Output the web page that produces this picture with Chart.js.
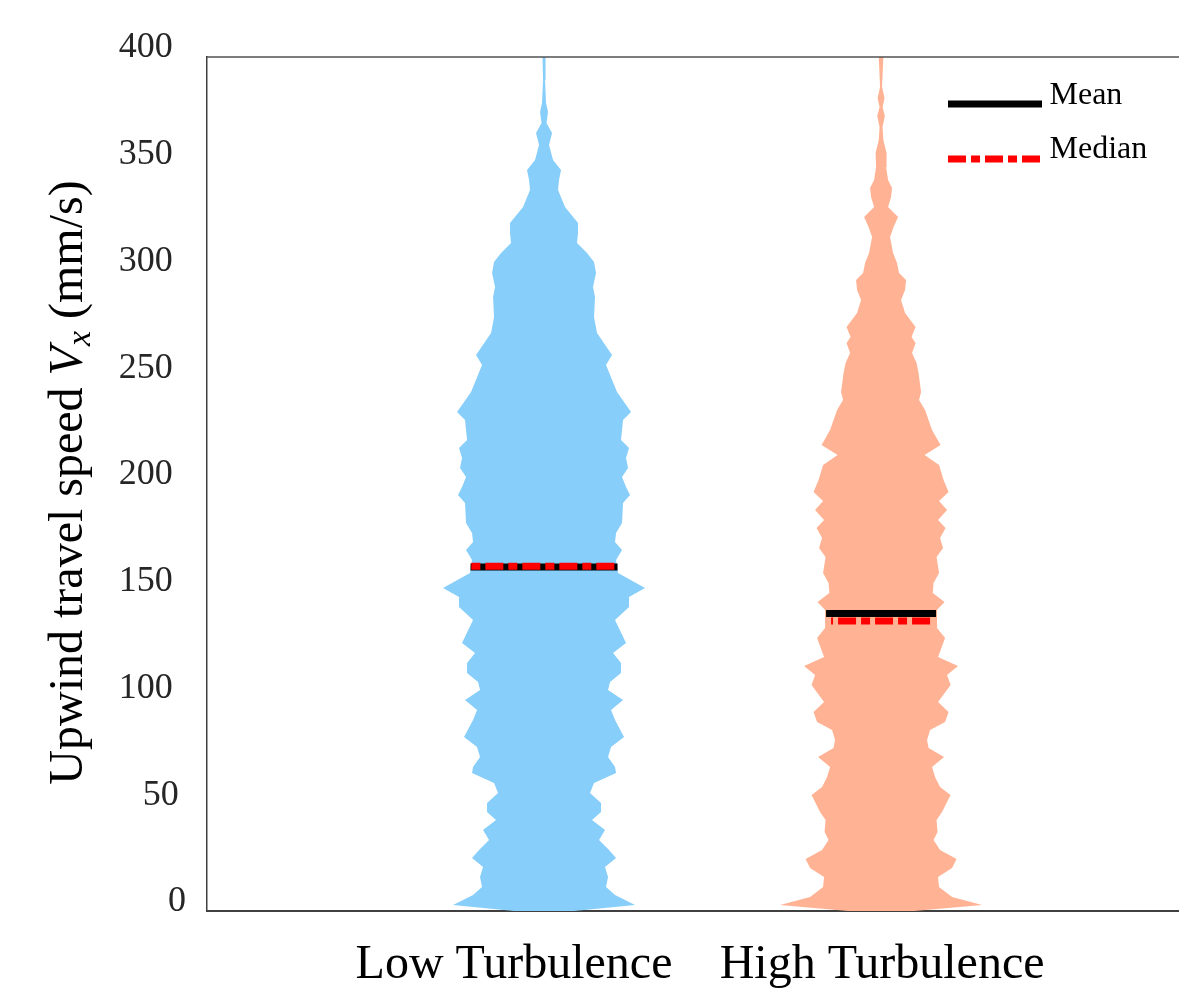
<!DOCTYPE html>
<html>
<head>
<meta charset="utf-8">
<script src="https://cdn.jsdelivr.net/npm/chart.js@4.4.1/dist/chart.umd.min.js"></script>
<style>
html,body{margin:0;padding:0;background:#fff;}
#wrap{width:1179px;height:989px;position:relative;}
</style>
</head>
<body>
<div id="wrap"><canvas id="c" width="1179" height="989"></canvas></div>
<script>
// ---------------- data ----------------
const CATEGORIES = ['Low Turbulence', 'High Turbulence'];
const VIOLIN_CENTERS = [1, 2];
const CATEGORY_LABEL_POS = [0.911, 2.003];
const Y_TICKS = [0, 50, 100, 150, 200, 250, 300, 350, 400];
const LEGEND_LABELS = ['Mean', 'Median'];

// [speed (mm/s), relative density]
const LOW_PROFILE = [
  [0, 0.30], [2.8, 0.91], [7.5, 0.71], [11.2, 0.62], [15.9, 0.64], [20.6, 0.61],
  [24.8, 0.72], [28.6, 0.65], [33.3, 0.55], [37.9, 0.61], [42.6, 0.48], [46.4, 0.57],
  [50.6, 0.57], [55.3, 0.46], [60.0, 0.50], [64.6, 0.72], [67.4, 0.71], [72.1, 0.64],
  [76.8, 0.67], [81.5, 0.80], [89.5, 0.71], [94.1, 0.67], [98.8, 0.79], [103.5, 0.64],
  [107.3, 0.66], [111.5, 0.77], [116.2, 0.77], [120.8, 0.69], [125.5, 0.82], [136.3, 0.71],
  [142.4, 0.85], [147.1, 0.85], [151.3, 1.01], [158.3, 0.74], [164.4, 0.72], [169.1, 0.78],
  [172.8, 0.71], [177.0, 0.72], [181.7, 0.78], [191.1, 0.79], [194.8, 0.86], [198.6, 0.82],
  [203.3, 0.78], [207.5, 0.84], [212.2, 0.82], [216.9, 0.85], [220.6, 0.77], [230.0, 0.79],
  [233.7, 0.87], [243.1, 0.73], [255.7, 0.62], [260.4, 0.68], [270.7, 0.53], [278.2, 0.50],
  [287.6, 0.51], [292.3, 0.49], [298.8, 0.52], [304.0, 0.50], [308.2, 0.43], [312.9, 0.33],
  [317.6, 0.34], [322.2, 0.34], [329.7, 0.21], [337.7, 0.14], [342.4, 0.15], [347.1, 0.17],
  [351.8, 0.09], [358.8, 0.05], [364.4, 0.08], [369.1, 0.025], [374.2, 0.04], [378.5, 0.02],
  [389.2, 0.01], [400, 0.015]
];
const HIGH_PROFILE = [
  [0, 0.33], [2.8, 1.01], [6.6, 0.71], [11.2, 0.58], [15.9, 0.57], [20.1, 0.71],
  [24.4, 0.755], [28.6, 0.59], [33.3, 0.525], [37.0, 0.565], [42.6, 0.555], [46.4, 0.61],
  [54.3, 0.695], [58.1, 0.59], [62.8, 0.54], [67.4, 0.51], [72.1, 0.63], [76.3, 0.475],
  [80.1, 0.46], [84.8, 0.49], [88.5, 0.64], [93.2, 0.675], [97.9, 0.57], [105.9, 0.695],
  [110.5, 0.66], [114.8, 0.77], [119.0, 0.57], [127.9, 0.64], [132.6, 0.56], [141.0, 0.56],
  [144.7, 0.635], [148.9, 0.517], [153.6, 0.525], [158.3, 0.58], [165.8, 0.555], [170.0, 0.62],
  [174.7, 0.59], [179.4, 0.645], [183.1, 0.57], [187.8, 0.66], [192.0, 0.58], [196.3, 0.675],
  [201.9, 0.625], [208.9, 0.58], [213.6, 0.435], [218.3, 0.595], [225.3, 0.51], [234.7, 0.44],
  [239.3, 0.38], [243.1, 0.40], [252.0, 0.375], [256.7, 0.355], [261.4, 0.31], [266.0, 0.345],
  [268.9, 0.305], [273.5, 0.345], [280.1, 0.24], [286.2, 0.20], [290.9, 0.24], [295.6, 0.25],
  [298.8, 0.18], [303.5, 0.16], [308.2, 0.12], [315.7, 0.09], [320.4, 0.125], [325.1, 0.17],
  [329.7, 0.07], [334.4, 0.10], [338.6, 0.11], [342.4, 0.07], [348.5, 0.05], [355.0, 0.055],
  [361.1, 0.023], [367.2, 0.015], [372.4, 0.038], [376.6, 0.015], [380.8, 0.035], [386.0, 0.01],
  [400, 0.023]
];
const MEANS = [161.1, 139.3];
const MEDIANS = [161.5, 135.8];
const MEAN_DENSITY = [0.735, 0.55];
const MEDIAN_DENSITY = [0.727, 0.50];

// ---------------- styling ----------------
const DENSITY_SCALE = 0.2967;           // x-units per density unit
const VIOLIN_COLORS = ['#87CEFA', '#FFB394'];
const FONT = '"Liberation Serif", "Times New Roman", serif';
const DASH = [18, 5, 9, 5];

function outline(profile, center) {
  const right = profile.map(([v, d]) => ({x: center + d * DENSITY_SCALE, y: v}));
  const left = profile.slice().reverse().map(([v, d]) => ({x: center - d * DENSITY_SCALE, y: v}));
  return right.concat(left);
}
function statLine(value, dens, center) {
  return [{x: center - dens * DENSITY_SCALE, y: value}, {x: center + dens * DENSITY_SCALE, y: value}];
}

const profiles = [LOW_PROFILE, HIGH_PROFILE];
const datasets = [];
VIOLIN_CENTERS.forEach((c, i) => {
  datasets.push({
    label: 'median-' + i, data: statLine(MEDIANS[i], MEDIAN_DENSITY[i], c),
    borderColor: '#FF0000', borderWidth: 7, borderDash: DASH, borderDashOffset: i === 0 ? 23 : 30,
    borderCapStyle: 'butt', pointRadius: 0, fill: false, order: 0
  });
  datasets.push({
    label: 'mean-' + i, data: statLine(MEANS[i], MEAN_DENSITY[i], c),
    borderColor: '#000000', borderWidth: 7, borderCapStyle: 'butt', pointRadius: 0, fill: false, order: 1
  });
  datasets.push({
    label: CATEGORIES[i], data: outline(profiles[i], c),
    borderWidth: 0, borderColor: 'rgba(0,0,0,0)', backgroundColor: VIOLIN_COLORS[i],
    fill: 'shape', pointRadius: 0, tension: 0, order: 2
  });
});

const TICK_PAD = {1: '', 2: '\u2009', 3: '\u2009\u2006'};

const decor = {
  id: 'decor',
  afterDraw(chart) {
    const ctx = chart.ctx;
    const a = chart.chartArea;
    ctx.save();
    // top border
    ctx.strokeStyle = '#505050';
    ctx.lineWidth = 1.5;
    ctx.beginPath();
    ctx.moveTo(a.left, a.top);
    ctx.lineTo(a.right, a.top);
    ctx.stroke();

    // legend
    const lx0 = 948, lx1 = 1042;
    ctx.lineWidth = 7;
    ctx.lineCap = 'butt';
    ctx.strokeStyle = '#000';
    ctx.setLineDash([]);
    ctx.beginPath(); ctx.moveTo(lx0, 104); ctx.lineTo(lx1, 104); ctx.stroke();
    ctx.strokeStyle = '#FF0000';
    ctx.setLineDash(DASH);
    ctx.beginPath(); ctx.moveTo(lx0, 159); ctx.lineTo(lx1, 159); ctx.stroke();
    ctx.setLineDash([]);
    ctx.fillStyle = '#000';
    ctx.font = '32px ' + FONT;
    ctx.textAlign = 'left';
    ctx.textBaseline = 'alphabetic';
    ctx.fillText(LEGEND_LABELS[0], 1049.5, 104);
    ctx.fillText(LEGEND_LABELS[1], 1049.5, 158);

    // y axis title with italic V and subscript x
    const parts = [
      {t: 'Upwind travel speed ', f: '48px ' + FONT, dy: 0},
      {t: 'V', f: 'italic 48px ' + FONT, dy: 0},
      {t: 'x', f: 'italic 34px ' + FONT, dy: 8},
      {t: ' (mm/s)', f: '48px ' + FONT, dy: 0}
    ];
    let total = 0;
    parts.forEach(p => { ctx.font = p.f; p.w = ctx.measureText(p.t).width; total += p.w; });
    ctx.translate(82, 482.5);
    ctx.rotate(-Math.PI / 2);
    let x = -total / 2;
    parts.forEach(p => { ctx.font = p.f; ctx.fillText(p.t, x, p.dy); x += p.w; });
    ctx.restore();
  }
};

new Chart(document.getElementById('c'), {
  type: 'line',
  data: {datasets},
  plugins: [decor],
  options: {
    responsive: false,
    animation: false,
    events: [],
    layout: {padding: {top: 57, right: 0, bottom: 0, left: 0}},
    plugins: {legend: {display: false}, tooltip: {enabled: false}, title: {display: false}},
    scales: {
      x: {
        type: 'linear', min: 0, max: 2.884,
        grid: {display: false, drawTicks: false},
        border: {display: true, color: '#404040', width: 2},
        afterBuildTicks(scale) { scale.ticks = CATEGORY_LABEL_POS.map(v => ({value: v})); },
        afterFit(scale) { scale.height = 78; },
        ticks: {
          autoSkip: false, maxRotation: 0, padding: 26, color: '#000',
          font: {family: FONT, size: 48},
          callback: (v, i) => CATEGORIES[i]
        }
      },
      y: {
        type: 'linear', min: 0, max: 400,
        grid: {display: false, drawTicks: false},
        border: {display: true, color: '#404040', width: 1.5},
        afterBuildTicks(scale) { scale.ticks = Y_TICKS.map(v => ({value: v})); },
        afterFit(scale) { scale.width = 207; },
        ticks: {
          padding: 21, labelOffset: -9, color: '#262626',
          font: {family: FONT, size: 36},
          callback: (v) => String(v) + TICK_PAD[String(v).length]
        }
      }
    }
  }
});
</script>
</body>
</html>
